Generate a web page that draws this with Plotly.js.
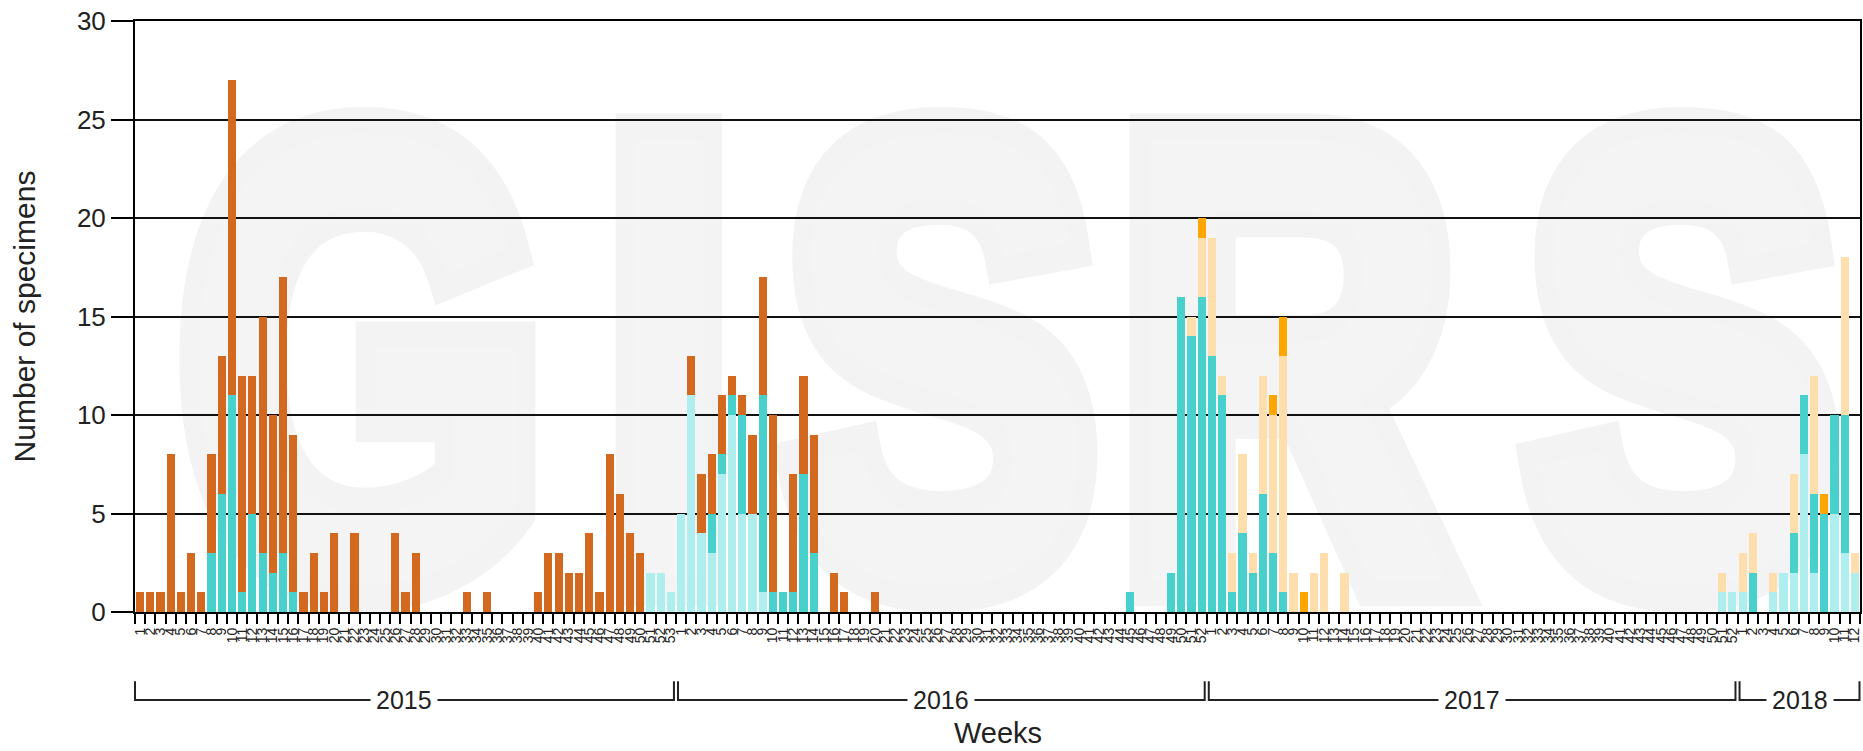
<!DOCTYPE html>
<html><head><meta charset="utf-8">
<script src="https://cdn.plot.ly/plotly-3.0.1.min.js"></script>
<style>
html,body{margin:0;padding:0;background:#fff;}
#wrap{position:relative;width:1863px;height:751px;overflow:hidden;}
#wm{position:absolute;left:0;top:0;}
#chart{position:absolute;left:0;top:0;width:1863px;height:751px;}
</style></head><body>
<div id="wrap">
<svg id="wm" width="1863" height="751">
<text transform="scale(0.735,1)" x="244 821 1065 1520 2075" y="580" style="font-family:'Liberation Sans',Arial,sans-serif;font-weight:700;font-size:640px;paint-order:stroke" fill="#f4f4f4" stroke="#f3f3f3" stroke-width="46" stroke-linejoin="miter" stroke-miterlimit="4" vector-effect="non-scaling-stroke">GISRS</text>
</svg>
<div id="chart"></div>
</div>
<script>
// ---- data ----
const years = [2015, 2016, 2017, 2018];
const weeksPerYear = [53, 52, 52, 12];

// A (not subtyped) - pale turquoise
const aNotSubtyped = [
  0,0,0,0,0,0,0,0,0,0, 0,0,0,0,0,0,0,0,0,0, 0,0,0,0,0,0,0,0,0,0, 0,0,0,0,0,0,0,0,0,0, 0,0,0,0,0,0,0,0,0,0, 2,2,1,
  5,11,4,3,7,10,5,5,1,0, 0,0,0,0,0,0,0,0,0,0, 0,0,0,0,0,0,0,0,0,0, 0,0,0,0,0,0,0,0,0,0, 0,0,0,0,0,0,0,0,0,0, 0,0,
  0,0,0,0,0,0,0,0,0,0, 0,0,0,0,0,0,0,0,0,0, 0,0,0,0,0,0,0,0,0,0, 0,0,0,0,0,0,0,0,0,0, 0,0,0,0,0,0,0,0,0,0, 1,1,
  1,0,0,1,2,2,8,2,0,5, 3,2
];
// A(H3) - medium turquoise
const aH3 = [
  0,0,0,0,0,0,0,3,6,11, 1,5,3,2,3,1,0,0,0,0, 0,0,0,0,0,0,0,0,0,0, 0,0,0,0,0,0,0,0,0,0, 0,0,0,0,0,0,0,0,0,0, 0,0,0,
  0,0,0,2,1,1,5,0,10,1, 1,1,7,3,0,0,0,0,0,0, 0,0,0,0,0,0,0,0,0,0, 0,0,0,0,0,0,0,0,0,0, 0,0,0,0,1,0,0,0,2,16, 14,16,
  13,11,1,4,2,6,3,1,0,0, 0,0,0,0,0,0,0,0,0,0, 0,0,0,0,0,0,0,0,0,0, 0,0,0,0,0,0,0,0,0,0, 0,0,0,0,0,0,0,0,0,0, 0,0,
  0,2,0,0,0,2,3,4,5,5, 7,0
];
// B (lineage not determined) - navajo white
const bNotDetermined = [
  0,0,0,0,0,0,0,0,0,0, 0,0,0,0,0,0,0,0,0,0, 0,0,0,0,0,0,0,0,0,0, 0,0,0,0,0,0,0,0,0,0, 0,0,0,0,0,0,0,0,0,0, 0,0,0,
  0,0,0,0,0,0,0,0,0,0, 0,0,0,0,0,0,0,0,0,0, 0,0,0,0,0,0,0,0,0,0, 0,0,0,0,0,0,0,0,0,0, 0,0,0,0,0,0,0,0,0,0, 1,3,
  6,1,2,4,1,6,7,12,2,0, 2,3,0,2,0,0,0,0,0,0, 0,0,0,0,0,0,0,0,0,0, 0,0,0,0,0,0,0,0,0,0, 0,0,0,0,0,0,0,0,0,0, 1,0,
  2,2,0,1,0,3,0,6,0,0, 8,1
];
// B (Yamagata lineage) - orange
const bYamagata = [
  0,0,0,0,0,0,0,0,0,0, 0,0,0,0,0,0,0,0,0,0, 0,0,0,0,0,0,0,0,0,0, 0,0,0,0,0,0,0,0,0,0, 0,0,0,0,0,0,0,0,0,0, 0,0,0,
  0,0,0,0,0,0,0,0,0,0, 0,0,0,0,0,0,0,0,0,0, 0,0,0,0,0,0,0,0,0,0, 0,0,0,0,0,0,0,0,0,0, 0,0,0,0,0,0,0,0,0,0, 0,1,
  0,0,0,0,0,0,1,2,0,1, 0,0,0,0,0,0,0,0,0,0, 0,0,0,0,0,0,0,0,0,0, 0,0,0,0,0,0,0,0,0,0, 0,0,0,0,0,0,0,0,0,0, 0,0,
  0,0,0,0,0,0,0,0,1,0, 0,0
];
// A(H1N1)pdm09 - chocolate
const aH1N1pdm09 = [
  1,1,1,8,1,3,1,5,7,16, 11,7,12,8,14,8,1,3,1,4, 0,4,0,0,0,4,1,3,0,0, 0,0,1,0,1,0,0,0,0,1, 3,3,2,2,4,1,8,6,4,3, 0,0,0,
  0,2,3,3,3,1,1,4,6,9, 0,6,5,6,0,2,1,0,0,1, 0,0,0,0,0,0,0,0,0,0, 0,0,0,0,0,0,0,0,0,0, 0,0,0,0,0,0,0,0,0,0, 0,0,
  0,0,0,0,0,0,0,0,0,0, 0,0,0,0,0,0,0,0,0,0, 0,0,0,0,0,0,0,0,0,0, 0,0,0,0,0,0,0,0,0,0, 0,0,0,0,0,0,0,0,0,0, 0,0,
  0,0,0,0,0,0,0,0,0,0, 0,0
];

// ---- categories ----
const cats = [], weekLabels = [];
years.forEach((y, i) => {
  for (let w = 1; w <= weeksPerYear[i]; w++) { cats.push(y + '-W' + w); weekLabels.push(String(w)); }
});
const N = cats.length;

const seriesDefs = [
  {name: 'A (not subtyped)', y: aNotSubtyped, color: '#AFEEEE'},
  {name: 'A(H3)', y: aH3, color: '#48D1CC'},
  {name: 'B (lineage not determined)', y: bNotDetermined, color: '#FFDEAD'},
  {name: 'B (Yamagata lineage)', y: bYamagata, color: '#FFA500'},
  {name: 'A(H1N1)pdm09', y: aH1N1pdm09, color: '#D2691E'}
];
const traces = seriesDefs.map(s => ({
  type: 'bar', x: cats, y: s.y, name: s.name,
  marker: {color: s.color, line: {width: 0}},
  hovertemplate: '%{x}: %{y}<extra>' + s.name + '</extra>'
}));

const FONT = 'Liberation Sans, Arial, sans-serif';
// year brackets below the axis
const shapes = [], annotations = [];
let start = 0;
const yTop = -0.117, yLine = -0.149;
years.forEach((y, i) => {
  const end = start + weeksPerYear[i];
  let x0 = start / N + (i === 0 ? 0 : 0.2 / N);
  let x1 = end / N - (i === years.length - 1 ? 0.05 / N : 0.2 / N);
  shapes.push({type: 'path', xref: 'paper', yref: 'paper',
    path: `M ${x0},${yTop} L ${x0},${yLine} L ${x1},${yLine} L ${x1},${yTop}`,
    line: {color: '#222', width: 2}});
  annotations.push({xref: 'paper', yref: 'paper', x: (x0 + x1) / 2, y: yLine, text: String(y),
    showarrow: false, xanchor: 'center', yanchor: 'middle', bgcolor: '#fff', borderpad: 5,
    font: {family: FONT, size: 25, color: '#222'}});
  start = end;
});
// x-axis title
annotations.push({xref: 'paper', yref: 'paper', x: 0.5, y: -0.205, text: 'Weeks',
  showarrow: false, xanchor: 'center', yanchor: 'middle',
  font: {family: FONT, size: 29, color: '#222'}});

const layout = {
  width: 1863, height: 751,
  margin: {l: 135, r: 1, t: 21, b: 139, pad: 0},
  paper_bgcolor: 'rgba(0,0,0,0)', plot_bgcolor: 'rgba(0,0,0,0)',
  barmode: 'stack', bargap: 0.2, showlegend: false,
  font: {family: FONT, color: '#222'},
  xaxis: {
    type: 'category', range: [-0.5, N - 0.5], automargin: false,
    tickmode: 'array', tickvals: cats, ticktext: weekLabels, tickangle: -90,
    tickfont: {family: FONT, size: 14, color: '#222'}, ticklabelstandoff: 8,
    ticks: 'outside', ticklen: 10, tickwidth: 1.5, tickcolor: '#000', tickson: 'boundaries',
    showline: true, linecolor: '#000', linewidth: 2, mirror: true, showgrid: false, zeroline: false
  },
  yaxis: {
    range: [0, 30], automargin: true, tickmode: 'array', tickvals: [0, 5, 10, 15, 20, 25, 30],
    tickfont: {family: FONT, size: 26, color: '#222'},
    ticks: 'outside', ticklen: 22, tickwidth: 2, tickcolor: '#000',
    showline: true, linecolor: '#000', linewidth: 2, mirror: true,
    showgrid: true, gridcolor: '#111', gridwidth: 2, zeroline: false,
    title: {text: 'Number of specimens', font: {family: FONT, size: 30, color: '#222'}, standoff: 32}
  },
  shapes: shapes, annotations: annotations
};
Plotly.newPlot('chart', traces, layout, {displayModeBar: false, responsive: false});
</script>
</body></html>
